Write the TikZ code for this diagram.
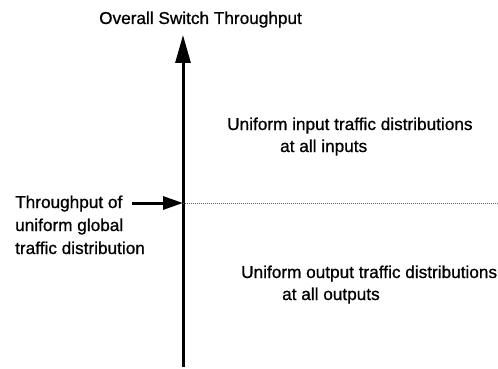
\documentclass[tikz,border=0pt]{standalone}
\usepackage{fontspec}
\setmainfont[FakeBold=0.8]{Liberation Sans}
\usetikzlibrary{arrows.meta}
\begin{document}
\begin{tikzpicture}[x=1pt,y=-1pt,
  lbl/.style={anchor=base west,inner sep=0pt,font=\fontsize{17.2}{23}\selectfont},
  axisline/.style={line width=3pt,-{Triangle[length=28pt,width=15pt]}},
  ptr/.style={line width=3pt,-{Triangle[length=20pt,width=13pt]}},
  level/.style={line width=1pt,draw=black!60,dash pattern=on 1pt off 1pt}]
\useasboundingbox (0,0) rectangle (498,369);
\coordinate (ybot) at (183,367);
\coordinate (ytop) at (183,35);
\coordinate (hs) at (132,203);
\coordinate (hp) at (183,203);
\coordinate (dend) at (498,203);
\draw[axisline] (ybot) -- (ytop);
\draw[ptr] (hs) -- (hp);
\draw[level] (hp) -- (dend);
\node[lbl] (title) at (99,24) {Overall Switch Throughput};
\node[lbl] (l1) at (15,208) {Throughput of};
\node[lbl] (l2) at (15,231) {uniform global};
\node[lbl] (l3) at (15,254) {traffic distribution};
\node[lbl] (in1) at (227,130) {Uniform input traffic distributions};
\node[lbl] (in2) at (280,152) {at all inputs};
\node[lbl] (out1) at (241,278) {Uniform output traffic distributions};
\node[lbl] (out2) at (282,300) {at all outputs};
\end{tikzpicture}
\end{document}
